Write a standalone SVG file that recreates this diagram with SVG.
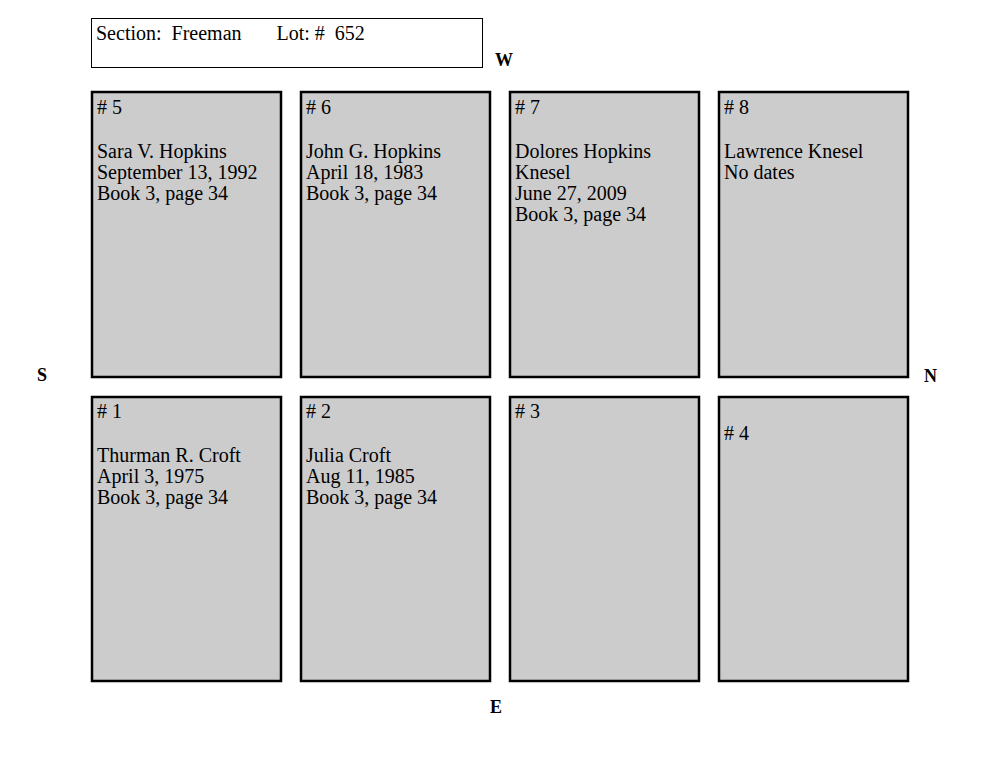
<svg xmlns="http://www.w3.org/2000/svg" width="1000" height="773" viewBox="0 0 1000 773">
<style>
.p{fill:#cccccc;stroke:#000;stroke-width:2.5}
text{font-family:"Liberation Serif",serif;font-size:20px;fill:#000}
.d{font-weight:bold;font-size:18px}
</style>
<rect width="1000" height="773" fill="#fff"/>
<g id="header"><rect x="91.5" y="18.5" width="391" height="49" fill="#fff" stroke="#000" stroke-width="1"/>
<text x="96" y="40" xml:space="preserve">Section:  Freeman       Lot: #  652</text></g>
<g id="dirs"><text class="d" x="495" y="66">W</text><text class="d" x="37" y="381">S</text><text class="d" x="924" y="382">N</text><text class="d" x="490" y="713">E</text></g>
<g id="p5"><rect class="p" x="92" y="92" width="189" height="285"/><text x="97" y="114">
<tspan x="97">#  5</tspan><tspan x="97" y="158">Sara V. Hopkins</tspan><tspan x="97" y="179">September 13, 1992</tspan><tspan x="97" y="200">Book 3, page 34</tspan></text></g>
<g id="p6"><rect class="p" x="301" y="92" width="189" height="285"/><text x="306" y="114">
<tspan x="306">#  6</tspan><tspan x="306" y="158">John G. Hopkins</tspan><tspan x="306" y="179">April 18, 1983</tspan><tspan x="306" y="200">Book 3, page 34</tspan></text></g>
<g id="p7"><rect class="p" x="510" y="92" width="189" height="285"/><text x="515" y="114">
<tspan x="515">#  7</tspan><tspan x="515" y="158">Dolores Hopkins</tspan><tspan x="515" y="179">Knesel</tspan><tspan x="515" y="200">June 27, 2009</tspan><tspan x="515" y="221">Book 3, page 34</tspan></text></g>
<g id="p8"><rect class="p" x="719" y="92" width="189" height="285"/><text x="724" y="114">
<tspan x="724">#  8</tspan><tspan x="724" y="158">Lawrence Knesel</tspan><tspan x="724" y="179">No dates</tspan></text></g>
<g id="p1"><rect class="p" x="92" y="397" width="189" height="284"/><text x="97" y="418">
<tspan x="97">#  1</tspan><tspan x="97" y="462">Thurman R. Croft</tspan><tspan x="97" y="483">April 3, 1975</tspan><tspan x="97" y="504">Book 3, page 34</tspan></text></g>
<g id="p2"><rect class="p" x="301" y="397" width="189" height="284"/><text x="306" y="418">
<tspan x="306">#  2</tspan><tspan x="306" y="462">Julia Croft</tspan><tspan x="306" y="483">Aug 11, 1985</tspan><tspan x="306" y="504">Book 3, page 34</tspan></text></g>
<g id="p3"><rect class="p" x="510" y="397" width="189" height="284"/><text x="515" y="418">#  3</text></g>
<g id="p4"><rect class="p" x="719" y="397" width="189" height="284"/><text x="724" y="440">#  4</text></g>
</svg>
